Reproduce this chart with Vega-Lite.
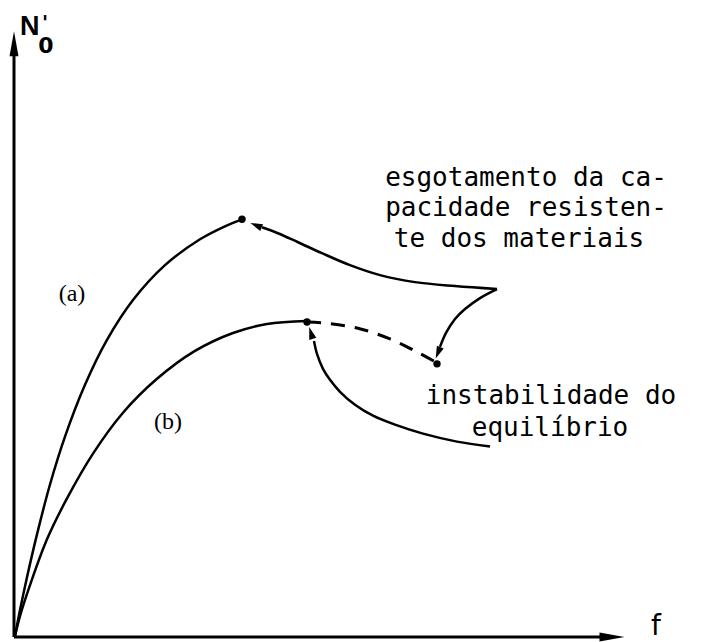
{
  "$schema": "https://vega.github.io/schema/vega-lite/v6.json",
  "width": 705,
  "height": 642,
  "autosize": {"type": "fit", "contains": "padding"},
  "padding": 0,
  "background": "white",
  "config": {"view": {"stroke": null}},
  "datasets": {
    "curves": [
      {"curve": "a", "i": 0, "f": 0, "N": 0},
      {"curve": "a", "i": 1, "f": 5, "N": 26},
      {"curve": "a", "i": 2, "f": 12, "N": 59},
      {"curve": "a", "i": 3, "f": 22, "N": 102},
      {"curve": "a", "i": 4, "f": 35, "N": 152},
      {"curve": "a", "i": 5, "f": 50, "N": 200},
      {"curve": "a", "i": 6, "f": 70, "N": 252},
      {"curve": "a", "i": 7, "f": 92, "N": 297},
      {"curve": "a", "i": 8, "f": 118, "N": 337},
      {"curve": "a", "i": 9, "f": 150, "N": 372},
      {"curve": "a", "i": 10, "f": 185, "N": 398},
      {"curve": "a", "i": 11, "f": 210, "N": 411},
      {"curve": "a", "i": 12, "f": 227, "N": 418},
      {"curve": "b", "i": 0, "f": 0, "N": 0},
      {"curve": "b", "i": 1, "f": 5, "N": 20},
      {"curve": "b", "i": 2, "f": 15, "N": 51},
      {"curve": "b", "i": 3, "f": 32, "N": 97},
      {"curve": "b", "i": 4, "f": 52, "N": 138},
      {"curve": "b", "i": 5, "f": 78, "N": 183},
      {"curve": "b", "i": 6, "f": 108, "N": 224},
      {"curve": "b", "i": 7, "f": 142, "N": 258},
      {"curve": "b", "i": 8, "f": 180, "N": 286},
      {"curve": "b", "i": 9, "f": 218, "N": 304},
      {"curve": "b", "i": 10, "f": 252, "N": 313},
      {"curve": "b", "i": 11, "f": 292, "N": 316},
      {"curve": "arrow1", "i": 0, "f": 482, "N": 348},
      {"curve": "arrow1", "i": 1, "f": 440, "N": 351},
      {"curve": "arrow1", "i": 2, "f": 400, "N": 355},
      {"curve": "arrow1", "i": 3, "f": 365, "N": 362},
      {"curve": "arrow1", "i": 4, "f": 335, "N": 372},
      {"curve": "arrow1", "i": 5, "f": 307, "N": 384},
      {"curve": "arrow1", "i": 6, "f": 283, "N": 395},
      {"curve": "arrow1", "i": 7, "f": 263, "N": 404},
      {"curve": "arrow1", "i": 8, "f": 247, "N": 410},
      {"curve": "arrow2", "i": 0, "f": 482, "N": 348},
      {"curve": "arrow2", "i": 1, "f": 465, "N": 339},
      {"curve": "arrow2", "i": 2, "f": 450, "N": 328},
      {"curve": "arrow2", "i": 3, "f": 440, "N": 318},
      {"curve": "arrow2", "i": 4, "f": 431, "N": 304},
      {"curve": "arrow2", "i": 5, "f": 425, "N": 290},
      {"curve": "arrow3", "i": 0, "f": 475, "N": 190},
      {"curve": "arrow3", "i": 1, "f": 442, "N": 195},
      {"curve": "arrow3", "i": 2, "f": 408, "N": 203},
      {"curve": "arrow3", "i": 3, "f": 380, "N": 212},
      {"curve": "arrow3", "i": 4, "f": 358, "N": 221},
      {"curve": "arrow3", "i": 5, "f": 340, "N": 232},
      {"curve": "arrow3", "i": 6, "f": 325, "N": 245},
      {"curve": "arrow3", "i": 7, "f": 315, "N": 257},
      {"curve": "arrow3", "i": 8, "f": 308, "N": 268},
      {"curve": "arrow3", "i": 9, "f": 302, "N": 283},
      {"curve": "arrow3", "i": 10, "f": 299, "N": 296}
    ],
    "dashed": [
      {"i": 0, "f": 292, "N": 315},
      {"i": 1, "f": 308, "N": 314},
      {"i": 2, "f": 342, "N": 309},
      {"i": 3, "f": 375, "N": 298},
      {"i": 4, "f": 402, "N": 285},
      {"i": 5, "f": 422, "N": 274}
    ],
    "axes": [
      {"name": "f", "f": -1, "N": -1, "f2": 590, "N2": -1},
      {"name": "N", "f": -1, "N": -1, "f2": -1, "N2": 585}
    ],
    "heads": [
      {"name": "f", "f": 597, "N": -1},
      {"name": "N", "f": -1, "N": 594},
      {"name": "arrow1", "f": 241, "N": 412},
      {"name": "arrow2", "f": 423, "N": 284},
      {"name": "arrow3", "f": 296, "N": 304}
    ],
    "dots": [
      {"f": 227, "N": 418},
      {"f": 292, "N": 315},
      {"f": 422, "N": 273}
    ],
    "notes": [
      {"text": "esgotamento da ca-", "f": 511, "N": 451},
      {"text": "pacidade resisten-", "f": 511, "N": 421},
      {"text": "te dos materiais", "f": 504, "N": 390},
      {"text": "instabilidade do", "f": 536, "N": 233},
      {"text": "equilíbrio", "f": 535, "N": 201}
    ],
    "tags": [
      {"text": "(a)", "f": 57, "N": 343},
      {"text": "(b)", "f": 153, "N": 215}
    ]
  },
  "encoding": {
    "x": {"field": "f", "type": "quantitative", "axis": null,
          "scale": {"domain": [-15, 690], "nice": false, "zero": false}},
    "y": {"field": "N", "type": "quantitative", "axis": null,
          "scale": {"domain": [-4, 638], "nice": false, "zero": false}}
  },
  "layer": [
    {
      "data": {"name": "axes"},
      "mark": {"type": "rule", "color": "black", "strokeWidth": 3},
      "encoding": {
        "x2": {"field": "f2"},
        "y2": {"field": "N2"}
      }
    },
    {
      "data": {"name": "curves"},
      "mark": {"type": "line", "color": "black", "strokeWidth": 2.5, "interpolate": "catmull-rom"},
      "encoding": {
        "detail": {"field": "curve"},
        "order": {"field": "i", "type": "quantitative"}
      }
    },
    {
      "data": {"name": "dashed"},
      "mark": {"type": "line", "color": "black", "strokeWidth": 3, "strokeDash": [14, 10], "interpolate": "catmull-rom"},
      "encoding": {
        "order": {"field": "i", "type": "quantitative"}
      }
    },
    {
      "data": {"name": "dots"},
      "mark": {"type": "point", "shape": "circle", "filled": true, "color": "black", "opacity": 1, "size": 55},
      "encoding": {}
    },
    {
      "data": {"name": "heads"},
      "transform": [{"filter": "datum.name === 'f'"}],
      "mark": {"type": "point", "shape": "M 1 0 L -1 -0.36 L -1 0.36 Z", "filled": true, "color": "black", "opacity": 1, "size": 625, "angle": 0},
      "encoding": {}
    },
    {
      "data": {"name": "heads"},
      "transform": [{"filter": "datum.name === 'N'"}],
      "mark": {"type": "point", "shape": "M 1 0 L -1 -0.36 L -1 0.36 Z", "filled": true, "color": "black", "opacity": 1, "size": 625, "angle": 270},
      "encoding": {}
    },
    {
      "data": {"name": "heads"},
      "transform": [{"filter": "datum.name === 'arrow1'"}],
      "mark": {"type": "point", "shape": "M 1 0 L -1 -0.6 L -1 0.6 Z", "filled": true, "color": "black", "opacity": 1, "size": 150, "angle": 203},
      "encoding": {}
    },
    {
      "data": {"name": "heads"},
      "transform": [{"filter": "datum.name === 'arrow2'"}],
      "mark": {"type": "point", "shape": "M 1 0 L -1 -0.6 L -1 0.6 Z", "filled": true, "color": "black", "opacity": 1, "size": 150, "angle": 112},
      "encoding": {}
    },
    {
      "data": {"name": "heads"},
      "transform": [{"filter": "datum.name === 'arrow3'"}],
      "mark": {"type": "point", "shape": "M 1 0 L -1 -0.6 L -1 0.6 Z", "filled": true, "color": "black", "opacity": 1, "size": 150, "angle": 253},
      "encoding": {}
    },
    {
      "data": {"name": "notes"},
      "mark": {"type": "text", "font": "DejaVu Sans Mono", "fontSize": 26, "color": "black", "align": "center", "baseline": "alphabetic"},
      "encoding": {"text": {"field": "text"}}
    },
    {
      "data": {"name": "tags"},
      "mark": {"type": "text", "font": "Liberation Serif", "fontSize": 24, "color": "black", "align": "center", "baseline": "middle"},
      "encoding": {"text": {"field": "text"}}
    },
    {
      "data": {"values": [{"text": "N", "f": 5, "N": 603}]},
      "mark": {"type": "text", "font": "Liberation Sans Narrow, Liberation Sans", "fontSize": 27, "fontWeight": "bold", "color": "black", "align": "left", "baseline": "alphabetic"},
      "encoding": {"text": {"field": "text"}}
    },
    {
      "data": {"values": [{"text": "'", "f": 30, "N": 625}]},
      "mark": {"type": "text", "font": "DejaVu Sans", "fontSize": 20, "fontWeight": "bold", "color": "black", "align": "center", "baseline": "top"},
      "encoding": {"text": {"field": "text"}}
    },
    {
      "data": {"values": [{"text": "0", "f": 31, "N": 585}]},
      "mark": {"type": "text", "font": "DejaVu Sans", "fontSize": 22, "fontWeight": "bold", "color": "black", "align": "center", "baseline": "alphabetic"},
      "encoding": {"text": {"field": "text"}}
    },
    {
      "data": {"values": [{"text": "f", "f": 641, "N": 1}]},
      "mark": {"type": "text", "font": "DejaVu Sans", "fontSize": 28, "color": "black", "align": "center", "baseline": "alphabetic"},
      "encoding": {"text": {"field": "text"}}
    }
  ]
}
